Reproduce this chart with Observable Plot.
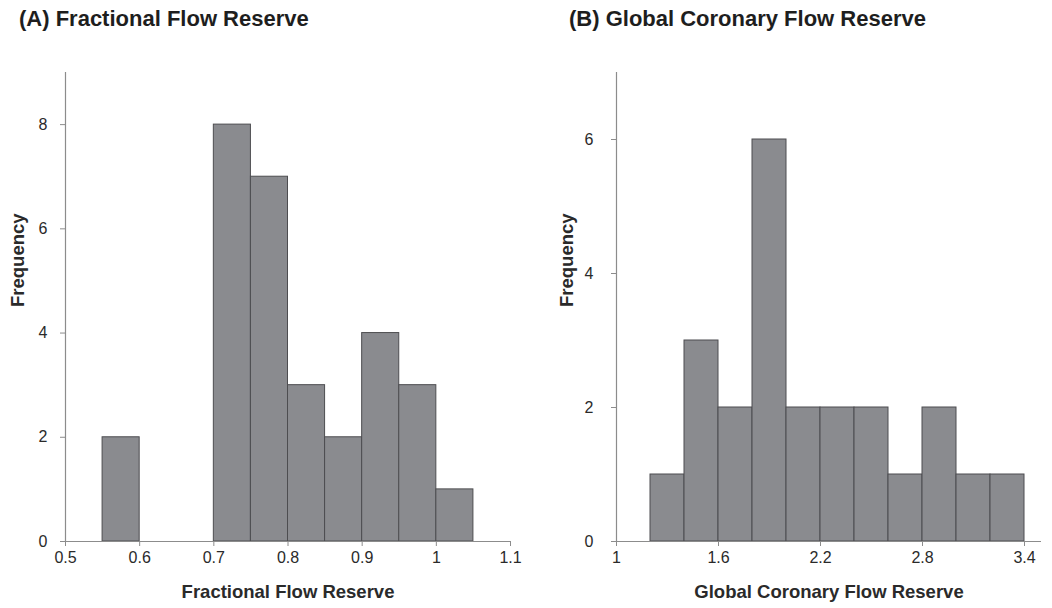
<!DOCTYPE html>
<html>
<head>
<meta charset="utf-8">
<script src="https://cdn.jsdelivr.net/npm/d3@7"></script>
<script src="https://cdn.jsdelivr.net/npm/@observablehq/plot@0.6"></script>
<style>
  html, body { margin: 0; padding: 0; background: #fff; }
  body { width: 1052px; height: 608px; position: relative; overflow: hidden;
         font-family: "Liberation Sans", Arial, Helvetica, sans-serif; }
  .title { position: absolute; top: 6px; font-weight: bold; font-size: 22px; color: #1e1e1e; }
  .panel { position: absolute; top: 50px; }
</style>
</head>
<body>
<div class="title" style="left:19px">(A) Fractional Flow Reserve</div>
<div class="title" style="left:569px">(B) Global Coronary Flow Reserve</div>
<div id="a" class="panel" style="left:0px"></div>
<div id="b" class="panel" style="left:540px"></div>
<script>
// Panel A: Fractional Flow Reserve histogram
const ffrBinStart = [0.55, 0.70, 0.75, 0.80, 0.85, 0.90, 0.95, 1.00];
const ffrBinEnd   = [0.60, 0.75, 0.80, 0.85, 0.90, 0.95, 1.00, 1.05];
const ffrCounts   = [2, 8, 7, 3, 2, 4, 3, 1];
const ffrTicksX   = [0.5, 0.6, 0.7, 0.8, 0.9, 1.0, 1.1];
const ffrTicksY   = [0, 2, 4, 6, 8];

// Panel B: Global Coronary Flow Reserve histogram
const gcfrBinStart = [1.2, 1.4, 1.6, 1.8, 2.0, 2.2, 2.4, 2.6, 2.8, 3.0, 3.2];
const gcfrBinEnd   = [1.4, 1.6, 1.8, 2.0, 2.2, 2.4, 2.6, 2.8, 3.0, 3.2, 3.4];
const gcfrCounts   = [1, 3, 2, 6, 2, 2, 2, 1, 2, 1, 1];
const gcfrTicksX   = [1, 1.6, 2.2, 2.8, 3.4];
const gcfrTicksY   = [0, 2, 4, 6];

const barFill = "#8a8b8f";
const barStroke = "#4d4d50";
const axisColor = "#8c8c8c";
const textColor = "#2a2a2a";

function panel({starts, ends, counts, xDomain, yDomain, xTicks, yTicks, xFormat, xLabel, width, marginLeft, marginRight, yPad, freqX}) {
  const bins = starts.map((s, i) => ({x1: s, x2: ends[i], y: counts[i]}));
  return Plot.plot({
    width, height: 558,
    marginTop: 22, marginBottom: 67, marginLeft, marginRight,
    style: {fontFamily: '"Liberation Sans", Arial, Helvetica, sans-serif', fontSize: "16px", color: textColor, background: "white", overflow: "visible"},
    x: {domain: xDomain},
    y: {domain: yDomain},
    marks: [
      Plot.rectY(bins, {x1: "x1", x2: "x2", y: "y", fill: barFill, stroke: barStroke, strokeWidth: 1}),
      Plot.ruleX([xDomain[0]], {y1: yDomain[0], y2: yDomain[1], stroke: axisColor, strokeWidth: 1.2}),
      Plot.ruleY([0], {stroke: axisColor, strokeWidth: 1.2}),
      Plot.axisX({ticks: xTicks, tickSize: 5, tickPadding: 5, tickFormat: xFormat, stroke: axisColor, fill: textColor, label: null}),
      Plot.axisY({ticks: yTicks, tickSize: 5, tickPadding: yPad, tickFormat: d3.format("d"), stroke: axisColor, fill: textColor, label: null}),
      Plot.text([xLabel], {frameAnchor: "bottom", dy: 56, fontWeight: "bold", fontSize: 18.5, fill: textColor}),
      Plot.text(["Frequency"], {frameAnchor: "left", dx: -marginLeft + freqX, rotate: -90, fontWeight: "bold", fontSize: 18.5, fill: textColor})
    ]
  });
}

document.getElementById("a").appendChild(panel({
  starts: ffrBinStart, ends: ffrBinEnd, counts: ffrCounts,
  xDomain: [0.5, 1.1], yDomain: [0, 9], xTicks: ffrTicksX, yTicks: ffrTicksY,
  xFormat: d => d3.format("~g")(+d.toFixed(2)),
  xLabel: "Fractional Flow Reserve", width: 530, marginLeft: 65, marginRight: 20, yPad: 13, freqX: 18
}));

document.getElementById("b").appendChild(panel({
  starts: gcfrBinStart, ends: gcfrBinEnd, counts: gcfrCounts,
  xDomain: [1, 3.5], yDomain: [0, 7], xTicks: gcfrTicksX, yTicks: gcfrTicksY,
  xFormat: d => d3.format("~g")(+d.toFixed(2)),
  xLabel: "Global Coronary Flow Reserve", width: 512, marginLeft: 76, marginRight: 11, yPad: 18, freqX: 27
}));
</script>
</body>
</html>
